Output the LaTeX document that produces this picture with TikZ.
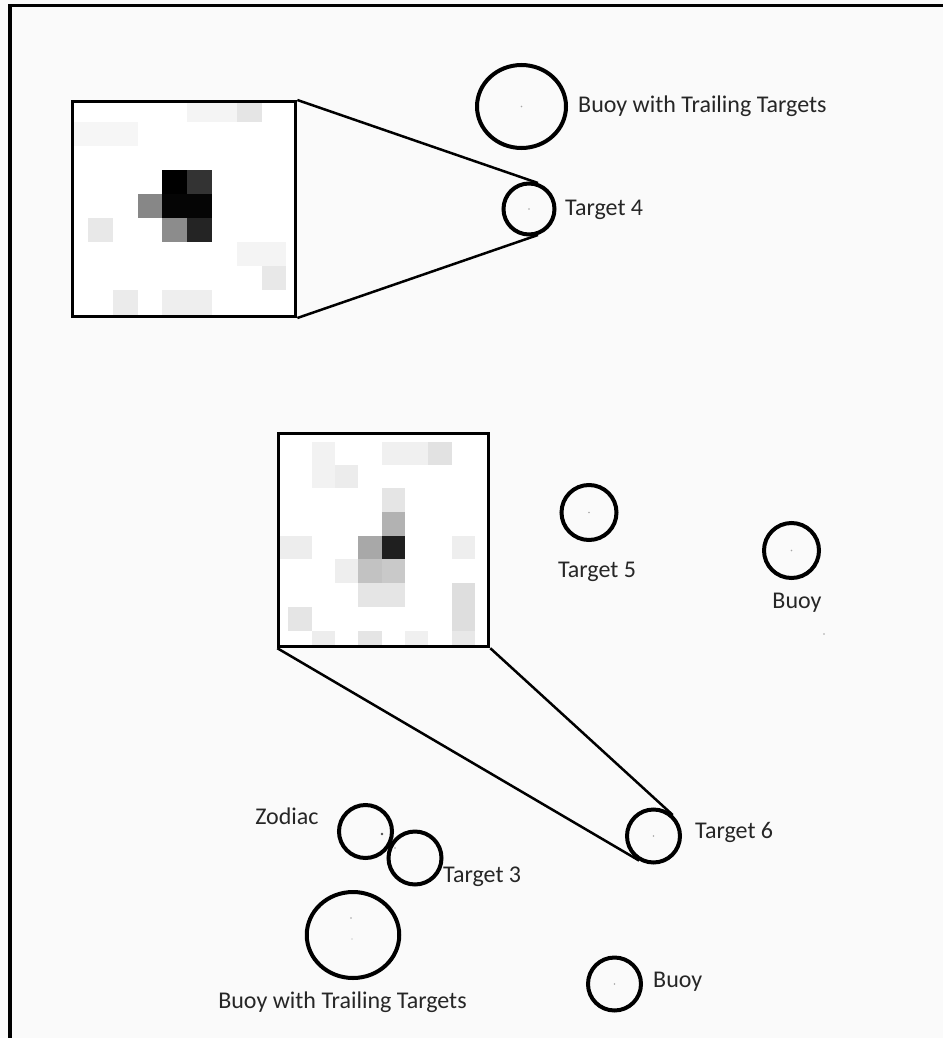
\documentclass[tikz,border=0pt]{standalone}
\usepackage{fontspec}
\setmainfont{Carlito}
\usetikzlibrary{calc,shapes.geometric}
\definecolor{bg}{HTML}{FAFAFA}
\definecolor{txt}{HTML}{262626}
\newcommand\pxl[5]{\definecolor{pxtmp}{gray}{#1}\fill[pxtmp] (#2,#3) rectangle (#4,#5);}
\begin{document}
\begin{tikzpicture}[x=1pt,y=-1pt,
  ring/.style={circle,draw=black,line width=4pt,inner sep=0pt},
  bigring/.style={ellipse,draw=black,line width=4pt,inner sep=0pt},
  lbl/.style={text=txt,inner sep=0pt,font=\fontsize{24}{28}\selectfont},
  zoombox/.style={rectangle,draw=black,line width=3pt,inner sep=0pt},
  zline/.style={draw=black,line width=2.5pt},
  speck/.style={fill=black!35}]
\useasboundingbox (0,0) rectangle (943,1038);
\fill[bg] (0,0) rectangle (943,1038);
% frame
\draw[line width=4pt] (10,1038) -- (10,4);
\draw[line width=3pt] (8,5.5) -- (943,5.5);
% ---- inset 1 pixels
\begin{scope}
\clip (72.5,101.5) rectangle (295.8,316.5);
\fill[white] (72.5,101.5) rectangle (295.8,316.5);
\pxl{0.965}{72}{122}{137.5}{146}
\pxl{0.955}{187}{98}{237}{122}
\pxl{0.9}{237}{98}{261.5}{122}
\pxl{0.91}{88}{218}{113}{242}
\pxl{0.955}{237}{242}{286}{266}
\pxl{0.91}{261.5}{266}{286}{290}
\pxl{0.92}{113}{290}{137.5}{320}
\pxl{0.935}{162}{290}{212}{320}
\pxl{0}{162}{170}{187}{194}
\pxl{0.2}{187}{170}{212}{194}
\pxl{0.53}{137.5}{194}{162}{218}
\pxl{0.02}{162}{194}{212}{218}
\pxl{0.55}{162}{218}{187}{242}
\pxl{0.14}{187}{218}{212}{242}
\end{scope}
\node[zoombox,minimum width=223.3pt,minimum height=215pt] (inset1) at (184.2,209) {};
% ---- inset 2 pixels
\begin{scope}
\clip (278.8,433.3) rectangle (488.8,646.7);
\fill[white] (278.8,433.3) rectangle (488.8,646.7);
\pxl{0.94}{381.7}{441.5}{428.3}{465}
\pxl{0.885}{428.3}{441.5}{451.7}{465}
\pxl{0.95}{311.7}{441.5}{335}{488.3}
\pxl{0.925}{335}{465}{358.3}{488.3}
\pxl{0.9}{381.7}{488.3}{405}{512}
\pxl{0.7}{381.7}{512}{405}{535.7}
\pxl{0.12}{381.7}{535.7}{405}{559}
\pxl{0.66}{358.3}{535.7}{381.7}{559}
\pxl{0.76}{358.3}{559}{381.7}{583}
\pxl{0.79}{381.7}{559}{405}{583}
\pxl{0.935}{335}{559}{358.3}{583}
\pxl{0.9}{358.3}{583}{405}{607}
\pxl{0.93}{280}{535.7}{311.7}{559}
\pxl{0.935}{451.7}{535.7}{475}{559}
\pxl{0.87}{451.7}{583}{475}{630.5}
\pxl{0.9}{288.3}{607}{311.7}{630.5}
\pxl{0.93}{311.7}{630.5}{335}{650}
\pxl{0.9}{358.3}{630.5}{381.7}{650}
\pxl{0.94}{405}{630.5}{428.3}{650}
\pxl{0.91}{451.7}{630.5}{475}{650}
\end{scope}
\node[zoombox,minimum width=210pt,minimum height=213.4pt] (inset2) at (383.8,540) {};
% ---- rings
\node[bigring,minimum width=89pt,minimum height=83pt] (bwtt1) at (521.5,106.5) {};
\node[ring,minimum size=51pt] (t4) at (529,209) {};
\node[ring,minimum size=55pt] (t5) at (589,512.5) {};
\node[ring,minimum size=55pt] (buoyR) at (791.5,550.5) {};
\node[ring,minimum size=53pt] (t6) at (653.5,836) {};
\node[ring,minimum size=53pt] (buoyB) at (614.5,984) {};
\node[ring,minimum size=53pt] (zod) at (365.5,831.5) {};
\node[ring,minimum size=53pt] (t3) at (415,858) {};
\node[bigring,minimum width=92.5pt,minimum height=86pt] (bwtt2) at (353,935) {};
% ---- specks
\foreach \n in {bwtt1,t4,t5,buoyR,t6,buoyB}{\fill[speck] (\n.center) circle (0.9pt);}
\fill[speck] (824,634) circle (0.9pt);
\fill[speck] (351,918) circle (0.9pt);
\fill[speck] (352,939) circle (0.7pt);
\fill[black!70] (382,834) circle (1.3pt);
\fill[black!40] (395,848) circle (0.8pt);
% ---- connectors
\draw[zline] (inset1.north east) -- (tangent cs:node=t4,point={(inset1.north east)},solution=2);
\draw[zline] (inset1.south east) -- (tangent cs:node=t4,point={(inset1.south east)},solution=1);
\draw[zline] (inset2.south west) -- (tangent cs:node=t6,point={(inset2.south west)},solution=1);
\draw[zline] (inset2.south east) -- (tangent cs:node=t6,point={(inset2.south east)},solution=2);
% ---- labels
\node[lbl,anchor=base west] (lbwtt1) at (578,113) {Buoy with Trailing Targets};
\node[lbl,anchor=base west] (lt4) at (565,215) {Target 4};
\node[lbl,anchor=base] (lt5) at (597,577) {Target 5};
\node[lbl,anchor=base] (lbuoyR) at (797,608) {Buoy};
\node[lbl,anchor=base west] (lt6) at (695,838) {Target 6};
\node[lbl,anchor=base west] (lbuoyB) at (653,987) {Buoy};
\node[lbl,anchor=base] (lzod) at (287,824) {Zodiac};
\node[lbl,anchor=base west] (lt3) at (443,882.7) {Target 3};
\node[lbl,anchor=base] (lbwtt2) at (342.5,1008) {Buoy with Trailing Targets};
\end{tikzpicture}
\end{document}
